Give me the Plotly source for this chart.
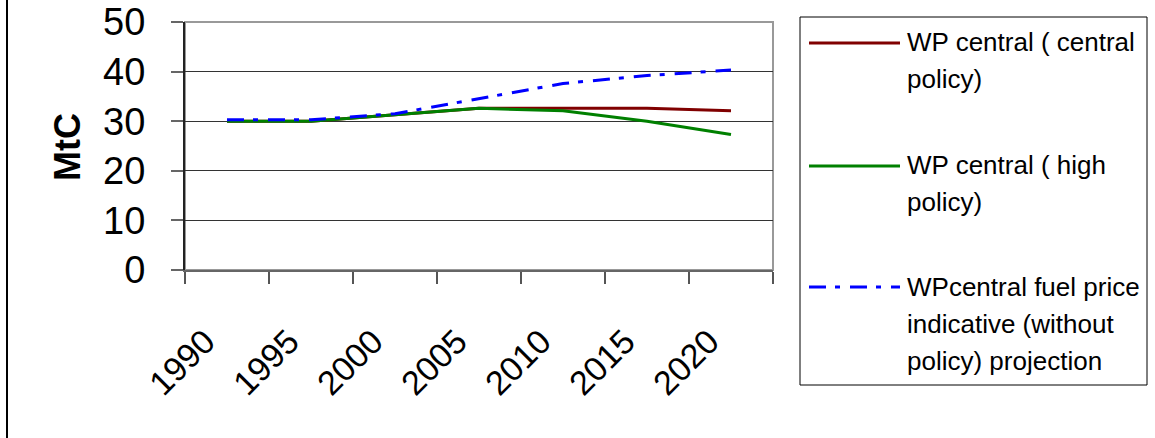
import plotly.graph_objects as go

# ---- data -------------------------------------------------------------
year_labels = ["1990", "1995", "2000", "2005", "2010", "2015", "2020"]

central_policy = [30.0, 30.0, 31.3, 32.6, 32.6, 32.6, 32.1]
high_policy = [30.0, 30.0, 31.3, 32.6, 32.1, 30.0, 27.3]
without_policy = [30.3, 30.3, 31.5, 34.5, 37.6, 39.2, 40.3]

y_ticks = [0, 10, 20, 30, 40, 50]

series_names = [
    "WP central ( central policy)",
    "WP central ( high policy)",
    "WPcentral fuel price indicative (without policy) projection",
]
legend_lines = [
    ["WP central ( central", "policy)"],
    ["WP central ( high", "policy)"],
    ["WPcentral fuel price", "indicative (without", "policy) projection"],
]
colors = ["#800000", "#008000", "#0000FF"]
dashes = ["solid", "solid", "17px,9px,5px,10px"]
series = [central_policy, high_policy, without_policy]

# ---- layout geometry (pixels) ------------------------------------------
FIG_W, FIG_H = 1155, 438
PL, PR, PT, PB = 185, 773, 22, 270
PW, PH = PR - PL, PB - PT


def px_x(p):
    return (p - PL) / PW


def px_y(p):
    return (PB - p) / PH


FONT = "Arial, Liberation Sans, sans-serif"

fig = go.Figure()

for name, vals, col, dash in zip(series_names, series, colors, dashes):
    fig.add_trace(go.Scatter(
        x=year_labels, y=vals, name=name, mode="lines",
        line=dict(color=col, width=3, dash=dash),
        showlegend=False, hoverinfo="skip",
    ))

fig.update_layout(
    width=FIG_W, height=FIG_H,
    margin=dict(l=PL, r=FIG_W - PR, t=PT, b=FIG_H - PB),
    paper_bgcolor="white", plot_bgcolor="white",
    font=dict(family=FONT, color="black"),
    xaxis=dict(
        type="category", range=[-0.5, len(year_labels) - 0.5],
        automargin=False, tickson="boundaries",
        tickangle=-45, tickfont=dict(size=34, family=FONT, color="black"),
        ticklabelstandoff=36, ticklabelshift=-22,
        ticks="outside", ticklen=12, tickwidth=2, tickcolor="#555555",
        showgrid=False, zeroline=False,
        showline=True, linecolor="#666666", linewidth=2,
    ),
    yaxis=dict(
        range=[0, 50], automargin=False,
        tickmode="array", tickvals=y_ticks,
        tickfont=dict(size=38, family=FONT, color="black"),
        ticks="outside", ticklen=12, tickwidth=2, tickcolor="#666666",
        ticklabelstandoff=18,
        showgrid=True, gridcolor="#333333", gridwidth=1.2,
        zeroline=False,
        showline=True, linecolor="#222222", linewidth=2,
    ),
)

shapes = [
    # plot area frame (top / right edges)
    dict(type="rect", xref="paper", yref="paper", x0=0, x1=1, y0=0, y1=1,
         line=dict(color="#999999", width=2), layer="below"),
    # chart border on the left
    dict(type="line", xref="paper", yref="paper",
         x0=px_x(7), x1=px_x(7), y0=px_y(0), y1=px_y(FIG_H),
         line=dict(color="black", width=2)),
    # legend box
    dict(type="rect", xref="paper", yref="paper",
         x0=px_x(800), x1=px_x(1147), y0=px_y(385), y1=px_y(17),
         line=dict(color="black", width=1), fillcolor="white"),
]

annotations = [
    dict(text="<b>MtC</b>", xref="paper", yref="paper",
         x=px_x(67), y=px_y(147), textangle=-90, showarrow=False,
         font=dict(size=36, family=FONT, color="black"),
         xanchor="center", yanchor="middle"),
]

# legend entries
sample_y = [43, 166, 287]
first_baseline = [50, 173, 295]
line_gap = 37
LEG_FONT = 26
for i, lines in enumerate(legend_lines):
    shapes.append(dict(
        type="line", xref="paper", yref="paper",
        x0=px_x(809), x1=px_x(900), y0=px_y(sample_y[i]), y1=px_y(sample_y[i]),
        line=dict(color=colors[i], width=3, dash=dashes[i]),
    ))
    for j, txt in enumerate(lines):
        base = first_baseline[i] + j * line_gap
        annotations.append(dict(
            text=txt, xref="paper", yref="paper",
            x=px_x(905), y=px_y(base - 8), showarrow=False,
            xanchor="left", yanchor="middle",
            font=dict(size=LEG_FONT, family=FONT, color="black"),
        ))

fig.update_layout(shapes=shapes, annotations=annotations)

fig.write_html("out.html")
